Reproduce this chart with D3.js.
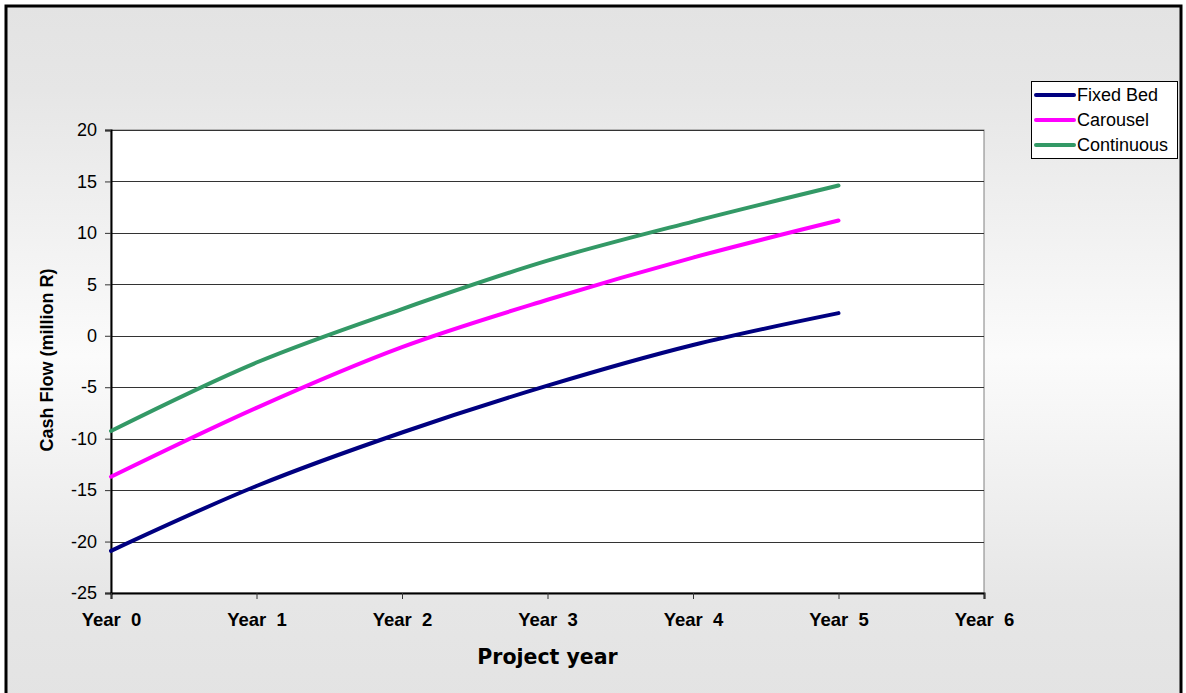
<!DOCTYPE html>
<html>
<head>
<meta charset="utf-8">
<script src="https://cdn.jsdelivr.net/npm/d3@7"></script>
<style>
  body { margin: 0; background: #fff; }
  svg { display: block; }
</style>
</head>
<body>
<div id="chart"></div>
<script>
// data
const years = [0, 1, 2, 3, 4, 5];
const tickLabels = ["Year  0", "Year  1", "Year  2", "Year  3", "Year  4", "Year  5", "Year  6"];
const yTicks = [-25, -20, -15, -10, -5, 0, 5, 10, 15, 20];
const seriesNames = ["Fixed Bed", "Carousel", "Continuous"];
const fixedBed = [-20.9, -14.6, -9.4, -4.85, -0.9, 2.2];
const carousel = [-13.7, -7.0, -1.1, 3.5, 7.6, 11.2];
const continuous = [-9.25, -2.6, 2.6, 7.3, 11.1, 14.6];
const colors = ["#000080", "#ff00ff", "#339966"];

const W = 1186, H = 693;
const margin = { top: 130, right: 202, bottom: 100, left: 111 };
const width = W - margin.left - margin.right;   // 873
const height = H - margin.top - margin.bottom;  // 463

const svg = d3.select("#chart").append("svg")
  .attr("width", W)
  .attr("height", H);

// background gradient
const grad = svg.append("defs").append("linearGradient")
  .attr("id", "bg").attr("x1", 0).attr("y1", 0).attr("x2", 0).attr("y2", 1);
grad.append("stop").attr("offset", "0%").attr("stop-color", "#e3e3e3");
grad.append("stop").attr("offset", "12%").attr("stop-color", "#e6e6e6");
grad.append("stop").attr("offset", "50%").attr("stop-color", "#fbfbfb");
grad.append("stop").attr("offset", "85%").attr("stop-color", "#e6e6e6");
grad.append("stop").attr("offset", "100%").attr("stop-color", "#e3e3e3");

svg.append("rect")
  .attr("x", 6).attr("y", 6)
  .attr("width", 1175).attr("height", 700)
  .attr("fill", "url(#bg)")
  .attr("stroke", "#000").attr("stroke-width", 3);

const chart = svg.append("g")
  .attr("transform", "translate(" + margin.left + "," + margin.top + ")");

const x = d3.scaleLinear().domain([0, 6]).range([0, width]);
const y = d3.scaleLinear().domain([-25, 20]).range([height, 0]);

// plot area
chart.append("rect")
  .attr("width", width).attr("height", height)
  .attr("fill", "#fff")
  .attr("stroke", "#808080").attr("stroke-width", 1);

// gridlines
chart.selectAll(".grid")
  .data(yTicks.filter((d) => d > -25))
  .join("line")
  .attr("x1", 0).attr("x2", width)
  .attr("y1", (d) => Math.round(y(d)) + 0.5)
  .attr("y2", (d) => Math.round(y(d)) + 0.5)
  .attr("stroke", "#333").attr("stroke-width", 1);

// y axis
const yAxis = chart.append("g")
  .call(d3.axisLeft(y).tickValues(yTicks).tickFormat((d) => String(d)).tickSize(6).tickPadding(8));
yAxis.select(".domain").attr("stroke", "#000").attr("stroke-width", 2);
yAxis.selectAll(".tick line").attr("stroke", "#333");
yAxis.selectAll("text")
  .style("font-family", "Liberation Sans, Arial, sans-serif")
  .style("font-size", "18px")
  .attr("fill", "#000");

// x axis
const xAxis = chart.append("g")
  .attr("transform", "translate(0," + height + ")")
  .call(d3.axisBottom(x).ticks(6).tickFormat((d) => tickLabels[d]).tickSize(6).tickPadding(14));
xAxis.select(".domain").attr("stroke", "#000").attr("stroke-width", 2);
xAxis.selectAll(".tick line").attr("stroke", "#333");
xAxis.selectAll("text")
  .style("font-family", "Liberation Sans, Arial, sans-serif")
  .style("font-size", "18.5px")
  .style("font-weight", "bold")
  .style("white-space", "pre")
  .attr("fill", "#000");

// series lines
const series = [fixedBed, carousel, continuous];
const line = d3.line()
  .x((d, i) => x(years[i]))
  .y((d) => y(d))
  .curve(d3.curveCatmullRom.alpha(0.5));

chart.selectAll(".series")
  .data(series)
  .join("path")
  .attr("d", line)
  .attr("fill", "none")
  .attr("stroke", (d, i) => colors[i])
  .attr("stroke-width", 4)
  .attr("stroke-linecap", "round");

// axis titles
svg.append("text")
  .attr("x", margin.left + width / 2)
  .attr("y", 664)
  .attr("text-anchor", "middle")
  .style("font-family", "DejaVu Sans, Verdana, sans-serif")
  .style("font-size", "20.5px")
  .style("font-weight", "bold")
  .text("Project year");

svg.append("text")
  .attr("transform", "translate(53,360) rotate(-90)")
  .attr("text-anchor", "middle")
  .style("font-family", "Liberation Sans, Arial, sans-serif")
  .style("font-size", "18px")
  .style("font-weight", "bold")
  .text("Cash Flow (million R)");

// legend
const legend = svg.append("g").attr("transform", "translate(1031,81)");
legend.append("rect")
  .attr("x", 0.5).attr("y", 0.5)
  .attr("width", 146).attr("height", 77)
  .attr("fill", "#fff")
  .attr("stroke", "#000").attr("stroke-width", 1);

const items = legend.selectAll(".item")
  .data(seriesNames)
  .join("g")
  .attr("transform", (d, i) => "translate(0," + (14 + i * 25) + ")");
items.append("line")
  .attr("x1", 5).attr("x2", 43)
  .attr("stroke", (d, i) => colors[i])
  .attr("stroke-width", 4)
  .attr("stroke-linecap", "round");
items.append("text")
  .attr("x", 46).attr("y", 6)
  .style("font-family", "Liberation Sans, Arial, sans-serif")
  .style("font-size", "18px")
  .text((d) => d);
</script>
</body>
</html>
